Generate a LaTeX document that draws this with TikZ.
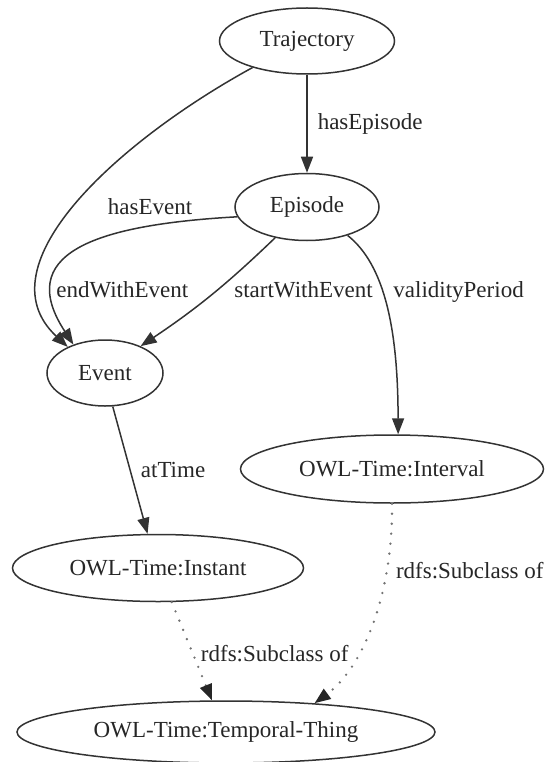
\documentclass[tikz,border=0pt]{standalone}
\usepackage{fontspec}
\setmainfont{Liberation Serif}
\usetikzlibrary{shapes.geometric, arrows.meta}

\tikzset{
	cls/.style={draw=black!80, ellipse, line width=1.5pt, inner sep=0pt, font=\fontsize{23}{27}\selectfont, text=black!85},
	rel/.style={line width=1.5pt, draw=black!80, -{Triangle[length=16pt, width=12pt]}},
	subof/.style={draw=black!55, line width=2.6pt, dash pattern=on 0pt off 10pt, line cap=round, -{Triangle[length=16pt, width=12pt, color=black!85]}},
	lbl/.style={inner sep=0pt, font=\fontsize{23}{27}\selectfont, text=black!85}
}

\begin{document}
\begin{tikzpicture}[x=1pt, y=1pt]
			\useasboundingbox (0,0) rectangle (551,-762);
			% classes
			\node	(traj)		at	(307,-41)	[cls, minimum width=175, minimum height=66]	{Trajectory};
			\node	(epi)		at	(307,-207)	[cls, minimum width=144, minimum height=67]	{Episode};
			\node	(event)		at	(105,-373)	[cls, minimum width=116, minimum height=66]	{Event};
			\node	(interval)	at	(392,-469)	[cls, minimum width=303, minimum height=68]	{OWL-Time:Interval};
			\node	(instant)	at	(158,-568)	[cls, minimum width=291, minimum height=67]	{OWL-Time:Instant};
			\node	(temporal)	at	(226,-732)	[cls, minimum width=418, minimum height=62]	{OWL-Time:Temporal-Thing};

			% properties
			\draw	[rel]	(traj.south) -- (epi.north)	node[lbl, midway, anchor=west, xshift=10]{hasEpisode};
			\draw	[rel]	(traj.206) .. controls (120,-140) and (-20,-265) .. (event.145)	node[lbl, pos=.51, anchor=west, xshift=32]{hasEvent};
			\draw	[rel]	(epi.188) .. controls (90,-225) and (15,-255) .. (event.138)	node[lbl, pos=.76, anchor=west, xshift=2]{endWithEvent};
			\draw	[rel]	(epi.224) to[bend left=5] node[lbl, pos=.5, anchor=west, xshift=23, yshift=6]{startWithEvent} (event.37);
			\draw	[rel]	(epi.325) .. controls (385,-265) and (398,-330) .. (interval.80)	node[lbl, pos=.42, anchor=west, xshift=10]{validityPeriod};
			\draw	[rel]	(event.283) -- (instant.107)	node[lbl, midway, anchor=west, xshift=10]{atTime};

			% subclasses
			\draw	[subof]	(instant.292) -- (temporal.114)	node[lbl, pos=.52, anchor=west, xshift=7]{rdfs:Subclass of};
			\draw	[subof]	(interval.270) .. controls (393,-600) and (360,-670) .. (temporal.18)	node[lbl, pos=.25, anchor=west, xshift=8]{rdfs:Subclass of};
\end{tikzpicture}
\end{document}
